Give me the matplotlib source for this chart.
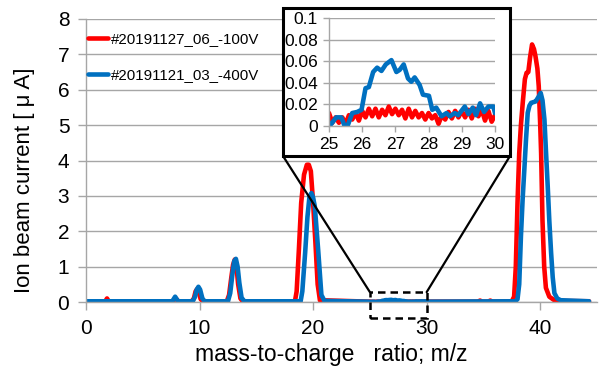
"""Ion beam mass spectrum, two bias voltages, with a zoom inset for m/z 25-30."""

import matplotlib

matplotlib.use("Agg")

import matplotlib.pyplot as plt
from matplotlib.patches import ConnectionPatch, Rectangle

plt.rcParams["font.family"] = ["Liberation Sans", "DejaVu Sans"]

RED_LABEL = "#20191127_06_-100V"
BLUE_LABEL = "#20191121_03_-400V"

# main trace (m/z 25-30 comes from the inset)
RED_MZ = [0.0, 1.7, 1.85, 2.0, 7.6, 7.9, 8.15,
          9.3, 9.5, 9.65, 9.8, 9.95, 10.1, 10.3,
          12.4, 12.6, 12.8, 12.95, 13.1, 13.25, 13.4, 13.6, 13.8,
          18.4, 18.55, 18.75, 18.95, 19.2, 19.45, 19.62, 19.8, 20.0, 20.2,
          20.4, 20.6, 24.9, 30.1, 34.5, 34.7, 34.9, 35.4, 35.6, 35.8,
          37.5, 37.7, 37.85, 38.0, 38.15, 38.3, 38.46, 38.65, 38.8, 38.95,
          39.1, 39.28, 39.45, 39.58, 39.75, 39.87, 40.0, 40.08, 40.2, 40.35,
          40.5, 40.8, 41.2, 41.6, 44.3]
RED_CURRENT = [0.02, 0.02, 0.1, 0.02, 0.02, 0.1, 0.02,
               0.02, 0.1, 0.3, 0.37, 0.25, 0.08, 0.02,
               0.02, 0.2, 0.7, 1.05, 1.2, 1.0, 0.5, 0.1, 0.02,
               0.02, 0.3, 1.5, 2.8, 3.6, 3.88, 3.88, 3.7, 2.8, 1.7,
               0.5, 0.05, 0.01, 0.01, 0.01, 0.04, 0.01, 0.01, 0.04, 0.01,
               0.02, 0.15, 1.0, 2.8, 4.2, 5.0, 5.63, 6.3, 6.48, 6.5,
               6.9, 7.28, 7.15, 6.95, 6.6, 6.1, 5.0, 4.2, 2.3, 1.0,
               0.4, 0.15, 0.06, 0.03, 0.02]

BLUE_MZ = [0.0, 7.6, 7.85, 8.1,
           9.4, 9.6, 9.75, 9.9, 10.05, 10.25, 10.45,
           12.5, 12.7, 12.9, 13.05, 13.2, 13.35, 13.5, 13.7, 13.95,
           18.9, 19.05, 19.3, 19.5, 19.68, 19.85, 20.0, 20.15, 20.45, 20.73,
           21.0, 24.9, 30.1,
           37.8, 38.0, 38.15, 38.3, 38.45, 38.6, 38.75, 38.9, 39.05, 39.2,
           39.4, 39.6, 39.85, 40.04, 40.2, 40.37, 40.5, 40.66, 40.8, 40.96,
           41.1, 41.25, 41.5, 41.8, 44.3]
BLUE_CURRENT = [0.02, 0.02, 0.15, 0.02,
                0.02, 0.15, 0.35, 0.43, 0.35, 0.1, 0.02,
                0.02, 0.25, 0.8, 1.15, 1.22, 1.0, 0.55, 0.12, 0.02,
                0.02, 0.3, 1.4, 2.4, 2.98, 3.08, 2.95, 2.7, 1.45, 0.2,
                0.03, 0.01, 0.01,
                0.02, 0.08, 0.5, 1.85, 2.9, 3.74, 4.6, 5.35, 5.55, 5.63,
                5.65, 5.67, 5.8, 5.91, 5.7, 5.16, 4.3, 3.27, 2.3, 1.38,
                0.7, 0.25, 0.1, 0.05, 0.02]

# zoomed window
RED_ZOOM_MZ = [25.0, 25.1, 25.2, 25.3, 25.4, 25.5, 25.6, 25.7, 25.8, 25.9,
               26.0, 26.1, 26.2, 26.3, 26.4, 26.5, 26.6, 26.7, 26.8, 26.9,
               27.0, 27.1, 27.2, 27.3, 27.4, 27.5, 27.6, 27.7, 27.8, 27.9,
               28.0, 28.1, 28.2, 28.3, 28.4, 28.5, 28.6, 28.7, 28.8, 28.9,
               29.0, 29.1, 29.2, 29.3, 29.4, 29.5, 29.6, 29.7, 29.8, 29.9, 30.0]
RED_ZOOM_CURRENT = [0.012, 0.003, 0.008, 0.003, 0.008, 0.002, 0.010, 0.006,
                    0.012, 0.005, 0.014, 0.008, 0.016, 0.009, 0.016, 0.008,
                    0.015, 0.010, 0.018, 0.011, 0.016, 0.010, 0.015, 0.007,
                    0.016, 0.008, 0.014, 0.008, 0.012, 0.006, 0.012, 0.007,
                    0.010, 0.002, 0.010, 0.006, 0.013, 0.007, 0.014, 0.008,
                    0.014, 0.008, 0.015, 0.007, 0.016, 0.009, 0.015, 0.005,
                    0.014, 0.004, 0.010]

BLUE_ZOOM_MZ = [25.02, 25.22, 25.37, 25.47, 25.57, 25.70, 25.85, 25.98, 26.10,
                26.20, 26.33, 26.45, 26.58, 26.71, 26.88, 27.03, 27.13, 27.25,
                27.38, 27.48, 27.58, 27.73, 27.83, 28.01, 28.11, 28.23, 28.39,
                28.54, 28.64, 28.79, 28.89, 29.09, 29.20, 29.33, 29.43, 29.55,
                29.67, 29.80, 29.95, 30.0]
BLUE_ZOOM_CURRENT = [0.0, 0.008, 0.008, 0.0, 0.001, 0.012, 0.013, 0.015,
                     0.035, 0.036, 0.050, 0.054, 0.051, 0.057, 0.061, 0.050,
                     0.052, 0.057, 0.044, 0.041, 0.045, 0.038, 0.029, 0.028,
                     0.015, 0.017, 0.009, 0.012, 0.009, 0.012, 0.010, 0.018,
                     0.011, 0.017, 0.010, 0.021, 0.013, 0.018, 0.018, 0.012]

MAIN_YTICKS = [0, 1, 2, 3, 4, 5, 6, 7, 8]
MAIN_XTICKS = [0, 10, 20, 30, 40]
ZOOM_YTICKS = [0, 0.02, 0.04, 0.06, 0.08, 0.1]
ZOOM_YTICKLABELS = ["0", "0.02", "0.04", "0.06", "0.08", "0.1"]
ZOOM_XTICKS = [25, 26, 27, 28, 29, 30]

RED = "#FF0000"
BLUE = "#0070C0"
GRID = "#A6A6A6"
W, H = 603, 369


def _merge(mz, cur, zmz, zcur):
    pts = sorted(zip(mz + zmz, cur + zcur))
    return [p[0] for p in pts], [p[1] for p in pts]


def _fig_box(x0, y0, x1, y1):
    # pixel box (top-left origin) -> figure fraction [left, bottom, width, height]
    return [x0 / W, 1 - y1 / H, (x1 - x0) / W, (y1 - y0) / H]


def _style_axes(ax, size, ticklen, pad):
    for side in ("top", "right"):
        ax.spines[side].set_visible(False)
    for side in ("left", "bottom"):
        ax.spines[side].set_color(GRID)
        ax.spines[side].set_linewidth(1.0)
    ax.grid(axis="y", color=GRID, linewidth=1.0)
    ax.set_axisbelow(True)
    ax.tick_params(labelsize=size, length=ticklen, width=1.0, color=GRID, pad=pad)


def _trace(ax, x, y, color, label=None):
    ax.plot(x, y, color=color, linewidth=3.3, label=label,
            solid_joinstyle="round", solid_capstyle="round")


red_x, red_y = _merge(RED_MZ, RED_CURRENT, RED_ZOOM_MZ, RED_ZOOM_CURRENT)
blue_x, blue_y = _merge(BLUE_MZ, BLUE_CURRENT, BLUE_ZOOM_MZ, BLUE_ZOOM_CURRENT)

fig = plt.figure(figsize=(W / 100, H / 100), dpi=100)
ax = fig.add_axes(_fig_box(86, 19, 597, 302))
_trace(ax, red_x, red_y, RED, RED_LABEL)
_trace(ax, blue_x, blue_y, BLUE, BLUE_LABEL)
ax.set_xlim(0, 45)
ax.set_ylim(0, 8)
ax.set_xticks(MAIN_XTICKS)
ax.set_yticks(MAIN_YTICKS)
_style_axes(ax, 15, 6, 6)

ax.legend(loc="upper left", bbox_to_anchor=(88 / W, 1 - 32 / H),
          bbox_transform=fig.transFigure, frameon=False, fontsize=10.8,
          handlelength=1.35, handletextpad=0.15, labelspacing=1.45,
          borderpad=0, borderaxespad=0)

fig.text(25 / W, 1 - 180 / H, "Ion beam current [ \u03bc A]", rotation=90,
         ha="center", va="center", fontsize=16)
fig.text(331 / W, 1 - 354 / H, "mass-to-charge   ratio; m/z",
         ha="center", va="center", fontsize=16.5)

# dashed window on the main axes
ax.add_patch(Rectangle((25, -0.45), 5, 0.73, fill=False, edgecolor="black",
                       linestyle=(0, (3, 2)), linewidth=1.8, clip_on=False, zorder=6))

# inset frame and the two leader lines
bx0, by0, bx1, by1 = 283, 8, 510, 156
fig.add_artist(Rectangle((bx0 / W, 1 - by1 / H), (bx1 - bx0) / W, (by1 - by0) / H,
                         transform=fig.transFigure, facecolor="white",
                         edgecolor="black", linewidth=2.2, zorder=4))
for fx, mx in ((bx0, 25), (bx1, 30)):
    fig.add_artist(ConnectionPatch(xyA=(fx / W, 1 - by1 / H), coordsA=fig.transFigure,
                                   xyB=(mx, 0.28), coordsB=ax.transData,
                                   color="black", linewidth=1.6, zorder=3))

axi = fig.add_axes(_fig_box(329, 18, 495, 126), zorder=5)
axi.patch.set_alpha(0)
_trace(axi, red_x, red_y, RED)
_trace(axi, blue_x, blue_y, BLUE)
axi.set_xlim(25, 30)
axi.set_ylim(0, 0.1)
axi.set_xticks(ZOOM_XTICKS)
axi.set_yticks(ZOOM_YTICKS, ZOOM_YTICKLABELS)
_style_axes(axi, 12.5, 4, 4)

fig.savefig("out.png", dpi=100)
